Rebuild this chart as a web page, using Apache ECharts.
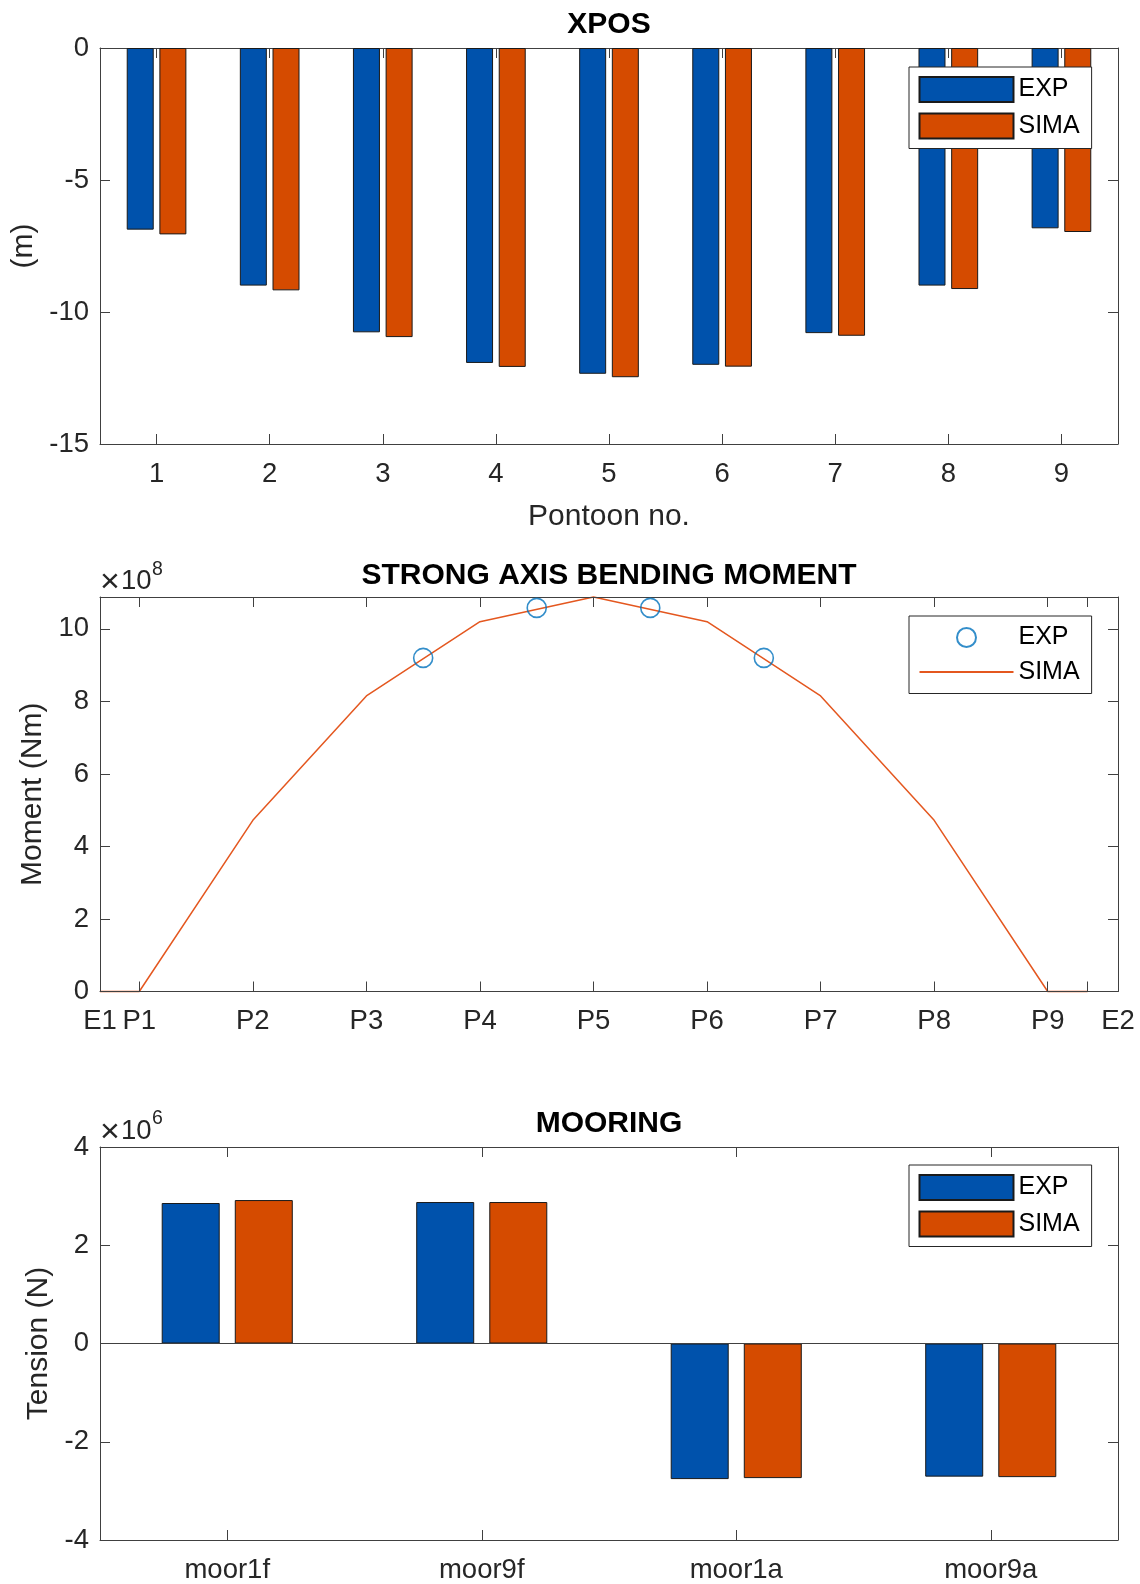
<!DOCTYPE html>
<html>
<head>
<meta charset="utf-8">
<script src="https://cdn.jsdelivr.net/npm/echarts@6/dist/echarts.min.js"></script>
<style>
html,body{margin:0;padding:0;background:#ffffff;}
#chart{width:1140px;height:1584px;}
</style>
</head>
<body>
<div id="chart"></div>
<script>
// ---------- DATA ----------
const pontoons = ['1','2','3','4','5','6','7','8','9'];
const xposExp  = [-6.88, -9.00, -10.77, -11.93, -12.34, -12.00, -10.80, -9.00, -6.83];
const xposSima = [-7.06, -9.18, -10.95, -12.08, -12.47, -12.07, -10.90, -9.13, -6.97];

// bending moment: x position in pontoon-spacing units (P1 = 1 ... P9 = 9)
const momentLabelPos   = [0.654, 1, 2, 3, 4, 5, 6, 7, 8, 9, 9.619];
const momentLabelNames = ['E1','P1','P2','P3','P4','P5','P6','P7','P8','P9','E2'];
const momentTickPos    = [1, 2, 3, 4, 5, 6, 7, 8, 9, 9.351];
const momentSimaX = [0.654, 1, 2, 3, 4, 5, 6, 7, 8, 9, 9.351];
const momentSimaY = [0, 0, 4.72e8, 8.15e8, 10.2e8, 10.88e8, 10.2e8, 8.15e8, 4.72e8, 0, 0];
const momentExpX  = [3.5, 4.5, 5.5, 6.5];
const momentExpY  = [9.2e8, 10.58e8, 10.58e8, 9.2e8];
const momentTicksY = [0, 2e8, 4e8, 6e8, 8e8, 10e8];

const mooringCats = ['moor1f','moor9f','moor1a','moor9a'];
const mooringExp  = [2.86e6, 2.88e6, -2.76e6, -2.71e6];
const mooringSima = [2.92e6, 2.88e6, -2.74e6, -2.72e6];

// ---------- STYLE ----------
const FONT = '"Liberation Sans", Arial, Helvetica, sans-serif';
const AX = '#404040';
const TXT = '#262626';
const BLUE = '#0052AC';
const ORANGE = '#D54B00';
const CIRCLE = '#0072BD';
const LINE = '#E4571F';
const TICK_FS = 27.5;
const NAME_FS = 30;

const G = [
  {left: 100, right: 22, top: 48, height: 396},
  {left: 100, right: 22, top: 597, height: 394.5},
  {left: 100, right: 22, top: 1147, height: 395}
];

function lineAx() { return {show: true, onZero: false, lineStyle: {color: AX, width: 1}}; }
function tickIn(extra) { return Object.assign({show: true, inside: true, length: 10, lineStyle: {color: AX, width: 1}}, extra || {}); }
const lbl = (extra) => Object.assign({color: TXT, fontSize: TICK_FS, fontFamily: FONT}, extra || {});

const xAxes = [
  {gridIndex: 0, type: 'category', data: pontoons, position: 'bottom',
   axisLine: lineAx(), axisTick: tickIn({alignWithLabel: true}), axisLabel: lbl({margin: 16}),
   splitLine: {show: false},
   name: 'Pontoon no.', nameLocation: 'middle', nameGap: 58,
   nameTextStyle: {color: TXT, fontSize: NAME_FS, fontFamily: FONT}},
  {gridIndex: 0, type: 'category', data: pontoons, position: 'top',
   axisLine: lineAx(), axisTick: tickIn({alignWithLabel: true}), axisLabel: {show: false}, splitLine: {show: false}},
  {gridIndex: 1, type: 'value', position: 'bottom', min: momentLabelPos[0], max: momentLabelPos[momentLabelPos.length - 1],
   axisLine: lineAx(), axisTick: tickIn({customValues: momentTickPos}),
   axisLabel: lbl({margin: 16, customValues: momentLabelPos, showMinLabel: true, showMaxLabel: true,
     formatter: function (v) {
       let best = 0, d = 1e9;
       momentLabelPos.forEach(function (p, i) { if (Math.abs(p - v) < d) { d = Math.abs(p - v); best = i; } });
       return momentLabelNames[best];
     }}),
   splitLine: {show: false}},
  {gridIndex: 1, type: 'value', position: 'top', min: momentLabelPos[0], max: momentLabelPos[momentLabelPos.length - 1],
   axisLine: lineAx(), axisTick: tickIn({customValues: momentTickPos}), axisLabel: {show: false}, splitLine: {show: false}},
  {gridIndex: 2, type: 'category', data: mooringCats, position: 'bottom',
   axisLine: lineAx(), axisTick: tickIn({alignWithLabel: true}), axisLabel: lbl({margin: 16}), splitLine: {show: false}},
  {gridIndex: 2, type: 'category', data: mooringCats, position: 'top',
   axisLine: lineAx(), axisTick: tickIn({alignWithLabel: true}), axisLabel: {show: false}, splitLine: {show: false}}
];

const yAxes = [
  {gridIndex: 0, type: 'value', position: 'left', min: -15, max: 0, interval: 5,
   axisLine: lineAx(), axisTick: tickIn(), axisLabel: lbl({margin: 11}), splitLine: {show: false},
   name: '(m)', nameLocation: 'middle', nameRotate: 90, nameGap: 55,
   nameTextStyle: {color: TXT, fontSize: NAME_FS, fontFamily: FONT}},
  {gridIndex: 0, type: 'value', position: 'right', min: -15, max: 0, interval: 5,
   axisLine: lineAx(), axisTick: tickIn(), axisLabel: {show: false}, splitLine: {show: false}},
  {gridIndex: 1, type: 'value', position: 'left', min: 0, max: 10.88e8,
   axisLine: lineAx(), axisTick: tickIn({customValues: momentTicksY}),
   axisLabel: lbl({margin: 11, customValues: momentTicksY, formatter: function (v) { return String(Math.round(v / 1e8)); }}),
   splitLine: {show: false},
   name: 'Moment (Nm)', nameLocation: 'middle', nameRotate: 90, nameGap: 46,
   nameTextStyle: {color: TXT, fontSize: NAME_FS, fontFamily: FONT}},
  {gridIndex: 1, type: 'value', position: 'right', min: 0, max: 10.88e8,
   axisLine: lineAx(), axisTick: tickIn({customValues: momentTicksY}), axisLabel: {show: false}, splitLine: {show: false}},
  {gridIndex: 2, type: 'value', position: 'left', min: -4e6, max: 4e6, interval: 2e6,
   axisLine: lineAx(), axisTick: tickIn(),
   axisLabel: lbl({margin: 11, formatter: function (v) { return String(Math.round(v / 1e6)); }}),
   splitLine: {show: false},
   name: 'Tension (N)', nameLocation: 'middle', nameRotate: 90, nameGap: 40,
   nameTextStyle: {color: TXT, fontSize: NAME_FS, fontFamily: FONT}},
  {gridIndex: 2, type: 'value', position: 'right', min: -4e6, max: 4e6, interval: 2e6,
   axisLine: lineAx(), axisTick: tickIn(), axisLabel: {show: false}, splitLine: {show: false}}
];

function barStyle(c) { return {color: c, borderColor: '#1A1A1A', borderWidth: 1}; }

const series = [
  {name: 'XPOS EXP', type: 'bar', xAxisIndex: 0, yAxisIndex: 0, data: xposExp,
   barWidth: 27, barGap: '21%', itemStyle: barStyle(BLUE)},
  {name: 'XPOS SIMA', type: 'bar', xAxisIndex: 0, yAxisIndex: 0, data: xposSima,
   barWidth: 27, barGap: '21%', itemStyle: barStyle(ORANGE)},
  {name: 'MOMENT EXP', type: 'scatter', xAxisIndex: 2, yAxisIndex: 2,
   data: momentExpX.map(function (x, i) { return [x, momentExpY[i]]; }),
   symbol: 'circle', symbolSize: 19,
   itemStyle: {color: 'rgba(255,255,255,0)', borderColor: CIRCLE, borderWidth: 1.6}, z: 5},
  {name: 'MOMENT SIMA', type: 'line', xAxisIndex: 2, yAxisIndex: 2,
   data: momentSimaX.map(function (x, i) { return [x, momentSimaY[i]]; }),
   symbol: 'none', showSymbol: false, clip: false,
   lineStyle: {color: LINE, width: 1.5}, itemStyle: {color: LINE}, z: -1},
  {name: 'MOORING EXP', type: 'bar', xAxisIndex: 4, yAxisIndex: 4, data: mooringExp,
   barWidth: 58, barGap: '26%', itemStyle: barStyle(BLUE),
   markLine: {silent: true, symbol: ['none','none'], label: {show: false},
     lineStyle: {color: AX, width: 1, type: 'solid'}, data: [{yAxis: 0}]}},
  {name: 'MOORING SIMA', type: 'bar', xAxisIndex: 4, yAxisIndex: 4, data: mooringSima,
   barWidth: 58, barGap: '26%', itemStyle: barStyle(ORANGE)}
];

function legendBox(top, items, itemHeight, gap) {
  return {
    orient: 'vertical', left: 909, top: top,
    padding: [9, 12, 9, 9.5],
    itemWidth: 94, itemHeight: itemHeight, itemGap: gap,
    backgroundColor: '#ffffff', borderColor: '#262626', borderWidth: 1, borderRadius: 0,
    textStyle: {color: '#000', fontSize: 25, fontFamily: FONT},
    formatter: function (n) { return n.split(' ').pop(); },
    selectedMode: false,
    data: items
  };
}

const legends = [
  legendBox(67, [{name: 'XPOS EXP', icon: 'rect'}, {name: 'XPOS SIMA', icon: 'rect'}], 25, 9.5),
  legendBox(616, [{name: 'MOMENT EXP'}, {name: 'MOMENT SIMA', itemStyle: {opacity: 0}}], 19, 9.5),
  legendBox(1165, [{name: 'MOORING EXP', icon: 'rect'}, {name: 'MOORING SIMA', icon: 'rect'}], 25, 9.5)
];

function txt(x, y, s, size, weight, align) {
  return {type: 'text', x: x, y: y, silent: true,
    style: {text: s, fontSize: size, fontWeight: weight || 'normal', fontFamily: FONT,
      fill: weight === 'bold' ? '#000' : TXT, align: align || 'center', verticalAlign: 'middle'}};
}

const graphics = [
  txt(609, 25, 'XPOS', 30, 'bold'),
  txt(609, 576, 'STRONG AXIS BENDING MOMENT', 30, 'bold'),
  txt(609, 1124, 'MOORING', 30, 'bold'),
  txt(110, 583, '\u00D7', 34, 'normal'),
  txt(121, 581, '10', TICK_FS, 'normal', 'left'),
  txt(152, 570, '8', 19.5, 'normal', 'left'),
  txt(110, 1133, '\u00D7', 34, 'normal'),
  txt(121, 1131, '10', TICK_FS, 'normal', 'left'),
  txt(152, 1119, '6', 19.5, 'normal', 'left')
];

const chart = echarts.init(document.getElementById('chart'), null, {renderer: 'canvas'});
chart.setOption({
  animation: false,
  backgroundColor: '#ffffff',
  textStyle: {fontFamily: FONT},
  grid: G,
  xAxis: xAxes,
  yAxis: yAxes,
  legend: legends,
  series: series,
  graphic: graphics
});
</script>
</body>
</html>
